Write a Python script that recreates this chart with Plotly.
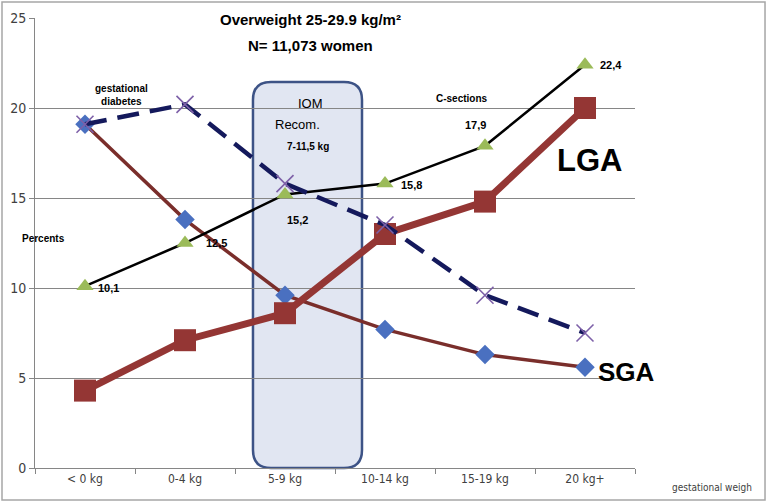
import plotly.graph_objects as go

categories = ["< 0 kg", "0-4 kg", "5-9 kg", "10-14 kg", "15-19 kg", "20 kg+"]
sga = [19.1, 13.8, 9.6, 7.7, 6.3, 5.6]
lga = [4.3, 7.1, 8.6, 13.0, 14.8, 20.0]
diabetes = [19.1, 20.2, 15.8, 13.5, 9.6, 7.5]
csections = [10.1, 12.5, 15.2, 15.8, 17.9, 22.4]
cs_labels = [f"{v:.1f}".replace(".", ",") for v in csections]
y_ticks = [0, 5, 10, 15, 20, 25]

# pixel offsets of the C-section value labels from their points
cs_label_dx = [23, 31, 12, 26, -10, 26]
cs_label_dy = [-2, 0, -26, -1, 21, 0]

NARROW = "Liberation Sans Narrow, DejaVu Sans Condensed, Liberation Sans, sans-serif"
SANS = "Liberation Sans, Arial, sans-serif"

fig = go.Figure()

fig.add_trace(go.Scatter(
    x=categories, y=sga, mode="lines+markers", name="SGA",
    line=dict(color="#7a2e2b", width=3.5),
    marker=dict(symbol="diamond", size=15, color="#4a70c0"),
))
fig.add_trace(go.Scatter(
    x=categories, y=lga, mode="lines+markers", name="LGA",
    line=dict(color="#943634", width=7),
    marker=dict(symbol="square", size=22, color="#943634"),
))
fig.add_trace(go.Scatter(
    x=categories, y=csections, mode="lines+markers", name="C-sections",
    line=dict(color="#000000", width=2.5),
    marker=dict(symbol="triangle-up", size=15, color="#9bbb59"),
))
fig.add_trace(go.Scatter(
    x=categories, y=diabetes, mode="lines+markers", name="gestational diabetes",
    line=dict(color="#14195c", width=4.5, dash="22px,11px"),
    marker=dict(symbol="x-thin", size=17, line=dict(color="#7d60a8", width=1.6)),
))

# IOM rounded box in paper coordinates
x0, x1, y0, y1 = 0.3633, 0.545, 0.0, 0.858
rx, ry = 0.03, 0.04
path = (f"M {x0+rx},{y0} L {x1-rx},{y0} Q {x1},{y0} {x1},{y0+ry} "
        f"L {x1},{y1-ry} Q {x1},{y1} {x1-rx},{y1} L {x0+rx},{y1} "
        f"Q {x0},{y1} {x0},{y1-ry} L {x0},{y0+ry} Q {x0},{y0} {x0+rx},{y0} Z")

shapes = [
    dict(type="path", path=path, xref="paper", yref="paper", layer="below",
         fillcolor="#e1e6f2", line=dict(color="#3d5386", width=2.5)),
    dict(type="rect", xref="paper", yref="paper", x0=-0.055, x1=1.2167, y0=-0.0711, y1=1.0356,
         line=dict(color="#a6a6a6", width=1.5), fillcolor="rgba(0,0,0,0)", layer="above"),
]

def px2paper(px, py):
    return (px - 35) / 600.0, (468 - py) / 450.0

annos = []
def add_text(text, px, py, size, bold=False, family=SANS, xanchor="center", color="#000000"):
    xp, yp = px2paper(px, py)
    annos.append(dict(text=text, x=xp, y=yp, xref="paper", yref="paper", showarrow=False,
                      xanchor=xanchor, yanchor="middle",
                      font=dict(family=family, size=size, color=color,
                                weight="bold" if bold else "normal")))

for cat, val, lab, dx, dy in zip(categories, csections, cs_labels, cs_label_dx, cs_label_dy):
    annos.append(dict(text=lab, x=cat, y=val, xref="x", yref="y", showarrow=False,
                      xshift=dx, yshift=dy, xanchor="center", yanchor="middle",
                      font=dict(family=SANS, size=11, color="#000000", weight="bold")))

add_text("Overweight 25-29.9 kg/m²", 310, 19, 15, bold=True)
add_text("N= 11,073 women", 310, 45, 15, bold=True)
add_text("gestational<br>diabetes", 93, 95, 10, bold=True, xanchor="left")
add_text("C-sections", 462, 98, 10, bold=True)
add_text("Percents", 20, 238, 10, bold=True, xanchor="left")
add_text("IOM", 310, 103, 13)
add_text("Recom.", 297, 125, 13)
add_text("7-11,5 kg", 308, 147, 10, bold=True)
add_text("LGA", 589, 160, 31, bold=True)
add_text("SGA", 626, 372, 26, bold=True)
add_text("gestational weigh", 670, 487, 10, family=NARROW, xanchor="left", color="#404040")

fig.update_layout(
    width=767, height=504,
    margin=dict(l=35, r=132, t=18, b=36),
    paper_bgcolor="white", plot_bgcolor="white",
    showlegend=False,
    shapes=shapes, annotations=annos,
    xaxis=dict(
        type="category", categoryorder="array", categoryarray=categories,
        range=[-0.5, 5.5], tickson="boundaries", ticks="outside", ticklen=5,
        tickcolor="#868686", showgrid=False, showline=True, linecolor="#868686",
        tickfont=dict(family=NARROW, size=12, color="#404040"),
        zeroline=False, automargin=False,
    ),
    yaxis=dict(
        range=[0, 25], tickvals=y_ticks, ticks="outside", ticklen=5,
        tickcolor="#868686", showgrid=True, gridcolor="#868686", gridwidth=1,
        showline=True, linecolor="#868686", zeroline=False, automargin=False,
        tickfont=dict(family=NARROW, size=14, color="#404040"),
    ),
)

fig.write_html("out.html", config={"displayModeBar": False},
               post_script="document.body.style.margin='0';document.body.style.overflow='hidden';")
